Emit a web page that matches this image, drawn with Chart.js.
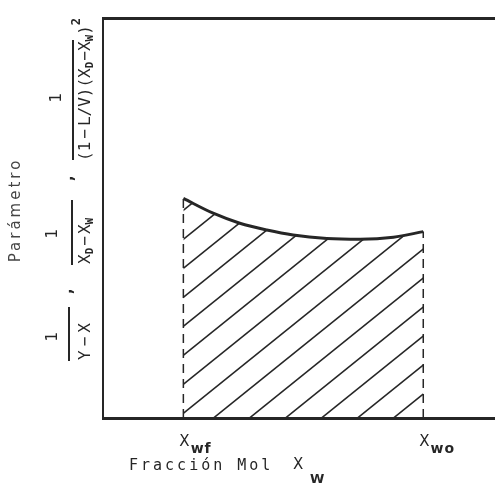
<!DOCTYPE html>
<html>
<head>
<meta charset="utf-8">
<script src="https://cdn.jsdelivr.net/npm/chart.js@4/dist/chart.umd.min.js"></script>
<style>
  html, body { margin: 0; padding: 0; background: #ffffff; }
  canvas { display: block; }
</style>
</head>
<body>
<canvas id="c" width="495" height="487"></canvas>
<script>
// Mole fraction of the residue along the integration interval
const molFraction = [0.205, 0.281, 0.349, 0.418, 0.485, 0.571, 0.656, 0.741, 0.817];
// Value of the plotted parameter at each mole fraction
const parameter = [0.549, 0.512, 0.487, 0.470, 0.4575, 0.449, 0.447, 0.452, 0.466];
// Limits of the integral and their labels (main letter + subscript)
const limits = [molFraction[0], molFraction[molFraction.length - 1]];
const limitNames = ['X', 'X'];
const limitSubs = ['wf', 'wo'];

const INK = '#262626';

// Diagonal hatching used to shade the integral area
function makeHatch(ctx) {
  const w = 36, h = 29;
  const tile = document.createElement('canvas');
  tile.width = w; tile.height = h;
  const g = tile.getContext('2d');
  g.strokeStyle = INK;
  g.lineWidth = 1.6;
  for (const k of [-1, 0, 1]) {
    g.beginPath();
    g.moveTo(-w, 2 * h + k * h);
    g.lineTo(2 * w, -h + k * h);
    g.stroke();
  }
  const p = ctx.createPattern(tile, 'repeat');
  p.setTransform(new DOMMatrix().translate(0, 10));
  return p;
}

// Text helpers: runs of text drawn rotated (reading bottom to top)
function rotRuns(ctx, runs, baseX, startY) {
  let y = startY;
  ctx.save();
  ctx.fillStyle = INK;
  ctx.textAlign = 'left';
  ctx.textBaseline = 'alphabetic';
  for (const r of runs) {
    ctx.font = r.f;
    ctx.save();
    ctx.translate(baseX + (r.dx || 0), y);
    ctx.rotate(-Math.PI / 2);
    ctx.fillText(r.t, 0, 0);
    ctx.restore();
    y -= ctx.measureText(r.t).width + (r.gap || 0);
  }
  ctx.restore();
}
function rotCenter(ctx, txt, x, y, font, color, spacing) {
  ctx.save();
  ctx.translate(x, y);
  ctx.rotate(-Math.PI / 2);
  ctx.font = font;
  ctx.letterSpacing = spacing || '0px';
  ctx.fillStyle = color || INK;
  ctx.textAlign = 'center';
  ctx.textBaseline = 'middle';
  ctx.fillText(txt, 0, 0);
  ctx.restore();
}
function vbar(ctx, x, y1, y2) {
  ctx.save();
  ctx.strokeStyle = INK;
  ctx.lineWidth = 2;
  ctx.beginPath();
  ctx.moveTo(x, y1);
  ctx.lineTo(x, y2);
  ctx.stroke();
  ctx.restore();
}

const M = '16px "DejaVu Sans Mono"';
const S = 'bold 11px "DejaVu Sans Mono"';

const labelsPlugin = {
  id: 'labels',
  afterDraw(chart) {
    const ctx = chart.ctx;
    const xs = chart.scales.x;

    // Limit labels under the axis
    ctx.save();
    ctx.fillStyle = INK;
    ctx.textBaseline = 'alphabetic';
    ctx.textAlign = 'left';
    limits.forEach((v, i) => {
      const px = xs.getPixelForValue(v) - 4;
      ctx.font = '15px "DejaVu Sans"';
      ctx.fillText(limitNames[i], px, 446);
      const w = ctx.measureText(limitNames[i]).width;
      ctx.font = 'bold 14px "DejaVu Sans"';
      ctx.letterSpacing = '1px';
      ctx.fillText(limitSubs[i], px + w + 1, 453);
      ctx.letterSpacing = '0px';
    });

    // Axis title
    ctx.font = '15px "DejaVu Sans Mono"';
    ctx.letterSpacing = '3px';
    ctx.fillText('Fracción Mol', 129, 470);
    ctx.letterSpacing = '0px';
    ctx.font = '15px "DejaVu Sans"';
    ctx.fillText('X', 293, 469);
    ctx.font = 'bold 13px "DejaVu Sans"';
    ctx.fillText('W', 310, 483);
    ctx.restore();

    // Vertical axis title
    rotCenter(ctx, 'Parámetro', 16, 210, '15px "DejaVu Sans"', '#444', '3px');

    // 1 / (y - x)
    rotCenter(ctx, '1', 53, 337, M);
    vbar(ctx, 69, 307, 361);
    rotRuns(ctx, [
      { t: 'Y', f: M, gap: 4 },
      { t: '−', f: M, gap: 4 },
      { t: 'X', f: M }
    ], 90, 360);
    rotRuns(ctx, [{ t: ',', f: 'bold 16px "DejaVu Sans Mono"' }], 72, 296);

    // 1 / (xD - xw)
    rotCenter(ctx, '1', 53, 234, M);
    vbar(ctx, 72, 200, 265);
    rotRuns(ctx, [
      { t: 'X', f: M },
      { t: 'D', f: S, dx: 3, gap: 2 },
      { t: '−', f: M, gap: 2 },
      { t: 'X', f: M },
      { t: 'W', f: S, dx: 3 }
    ], 90, 264);
    rotRuns(ctx, [{ t: ',', f: 'bold 16px "DejaVu Sans Mono"' }], 73, 183);

    // 1 / ((1 - L/V)(xD - xw)^2)
    rotCenter(ctx, '1', 57, 98, M);
    vbar(ctx, 73, 40, 160);
    rotRuns(ctx, [
      { t: '(1', f: M, gap: 3 },
      { t: '−', f: M, gap: 3 },
      { t: 'L/V', f: M },
      { t: ')(', f: M },
      { t: 'X', f: M },
      { t: 'D', f: S, dx: 3, gap: 1 },
      { t: '−', f: M },
      { t: 'X', f: M },
      { t: 'W', f: S, dx: 3 },
      { t: ')', f: M },
      { t: '2', f: 'bold 12px "DejaVu Sans Mono"', dx: -10 }
    ], 90, 161);
  }
};

const ctx = document.getElementById('c').getContext('2d');
const hatch = makeHatch(ctx);

const curve = molFraction.map((x, i) => ({ x, y: parameter[i] }));

new Chart(ctx, {
  type: 'line',
  data: {
    datasets: [
      {
        data: curve,
        borderColor: INK,
        borderWidth: 3,
        cubicInterpolationMode: 'monotone',
        pointRadius: 0,
        fill: 'origin',
        backgroundColor: hatch
      },
      {
        data: [{ x: limits[0], y: 0 }, { x: limits[0], y: parameter[0] }],
        borderColor: INK,
        borderWidth: 1.5,
        borderDash: [9, 6],
        pointRadius: 0,
        fill: false
      },
      {
        data: [{ x: limits[1], y: 0 }, { x: limits[1], y: parameter[parameter.length - 1] }],
        borderColor: INK,
        borderWidth: 1.5,
        borderDash: [9, 6],
        pointRadius: 0,
        fill: false
      }
    ]
  },
  options: {
    responsive: false,
    animation: false,
    events: [],
    layout: { autoPadding: false, padding: { left: 95, top: 10, right: 0, bottom: 61 } },
    plugins: { legend: { display: false }, tooltip: { enabled: false } },
    scales: {
      x: {
        type: 'linear', min: 0, max: 1,
        grid: { display: false },
        ticks: { display: false },
        border: { display: true, color: INK, width: 3 }
      },
      xTop: {
        type: 'linear', position: 'top', min: 0, max: 1,
        grid: { display: false },
        ticks: { display: false },
        border: { display: true, color: INK, width: 3 }
      },
      y: {
        type: 'linear', min: 0, max: 1,
        grid: { display: false },
        ticks: { display: false },
        border: { display: true, color: INK, width: 2 }
      }
    }
  },
  plugins: [labelsPlugin]
});
</script>
</body>
</html>
